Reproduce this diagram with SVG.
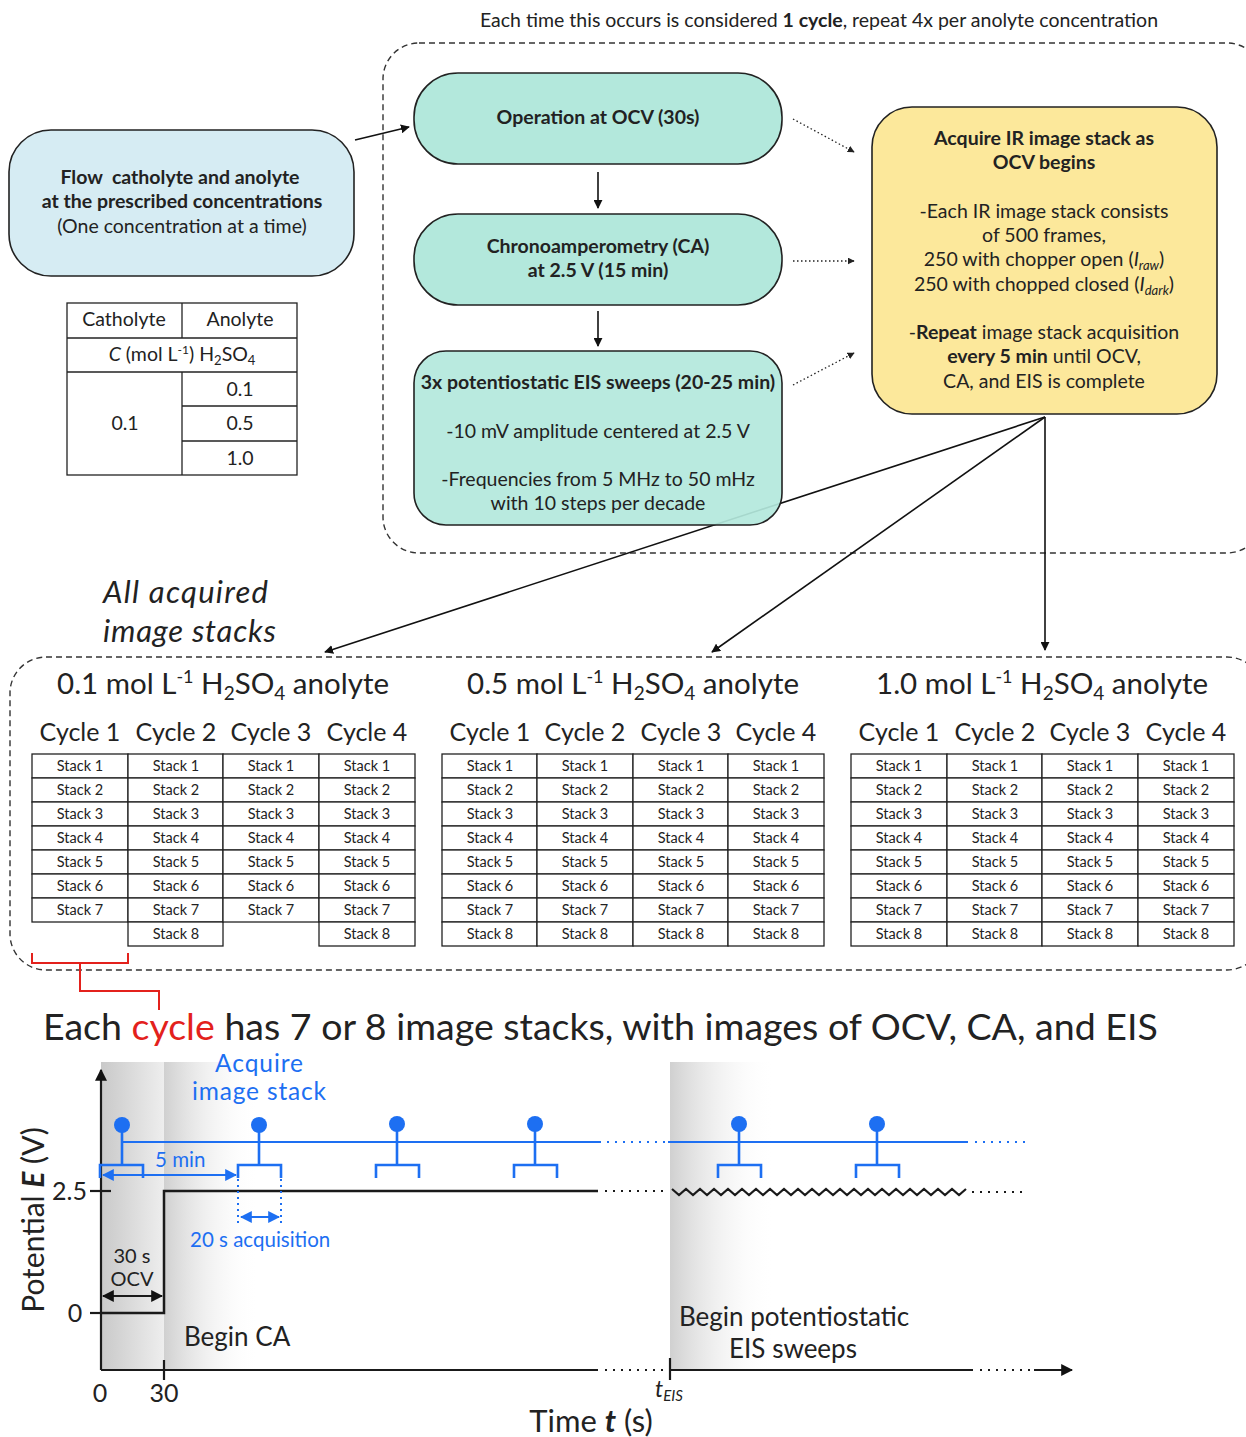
<svg xmlns="http://www.w3.org/2000/svg" width="1246" height="1437" viewBox="0 0 1246 1437">
<style>
text{font-family:Lato,"Noto Sans","Liberation Sans",sans-serif;fill:#222}
.b{font-weight:bold}
.it{font-style:italic}
.c{text-anchor:middle}
.e{text-anchor:end}
.t{font-size:19.5px}
.node{stroke:#222;stroke-width:1.6}
.blue{fill:#d6ecf3}
.green{fill:#b3e8dc}
.yellow{fill:#fce89b}
.dash{fill:none;stroke:#333;stroke-width:1.4;stroke-dasharray:6 4}
.conn{fill:none;stroke:#111;stroke-width:1.6}
.dot{fill:none;stroke:#222;stroke-width:1.3;stroke-dasharray:1.5 2.5}
.cell{fill:#fff;stroke:#222;stroke-width:1.3}
.st{font-size:14.5px;text-anchor:middle}
.hd{font-size:29.5px;text-anchor:middle}
.cy{font-size:25px;text-anchor:middle}
.tb{fill:none;stroke:#222;stroke-width:1.3}
.bl{fill:#1d6ff2}
.bls{stroke:#1d6ff2;fill:none}
.bk{stroke:#1a1a1a;fill:none}
.bdot{stroke:#1d6ff2;fill:none;stroke-width:2.2;stroke-dasharray:2 6}
.kdot{stroke:#1a1a1a;fill:none;stroke-width:2.2;stroke-dasharray:2 6}
</style>
<defs>
<marker id="ah" viewBox="0 0 10 10" refX="9" refY="5" markerWidth="9" markerHeight="9" markerUnits="userSpaceOnUse" orient="auto"><path d="M0,0 L10,5 L0,10 z" fill="#111"/></marker>
<marker id="ahs" viewBox="0 0 10 10" refX="9" refY="5" markerWidth="7" markerHeight="7" markerUnits="userSpaceOnUse" orient="auto"><path d="M0,0 L10,5 L0,10 z" fill="#222"/></marker>
<marker id="ahb" viewBox="0 0 10 10" refX="9" refY="5" markerWidth="12" markerHeight="12" markerUnits="userSpaceOnUse" orient="auto-start-reverse"><path d="M0,0 L10,5 L0,10 z" fill="#1d6ff2"/></marker>
<marker id="ahk" viewBox="0 0 10 10" refX="9" refY="5" markerWidth="12" markerHeight="12" markerUnits="userSpaceOnUse" orient="auto-start-reverse"><path d="M0,0 L10,5 L0,10 z" fill="#111"/></marker>
<linearGradient id="g1" x1="0" x2="1" y1="0" y2="0"><stop offset="0" stop-color="#c9c9c9"/><stop offset="1" stop-color="#eeeeee"/></linearGradient>
<linearGradient id="g2" x1="0" x2="1" y1="0" y2="0"><stop offset="0" stop-color="#d0d0d0"/><stop offset="1" stop-color="#ffffff" stop-opacity="0"/></linearGradient>
</defs>

<rect width="1246" height="1437" fill="#fff"/>

<!-- caption -->
<text x="819" y="27" class="c t">Each time this occurs is considered <tspan class="b">1 cycle</tspan>, repeat 4x per anolyte concentration</text>

<!-- dashed grouping boxes -->
<rect x="383" y="43" width="880" height="510" rx="36" class="dash"/>
<rect x="10" y="657" width="1253" height="313" rx="36" class="dash"/>

<!-- connectors -->
<g id="connectors">
<line x1="355" y1="140" x2="409" y2="127" class="conn" marker-end="url(#ah)"/>
<line x1="598" y1="172" x2="598" y2="208" class="conn" marker-end="url(#ah)"/>
<line x1="598" y1="311" x2="598" y2="346" class="conn" marker-end="url(#ah)"/>
<line x1="793" y1="119" x2="854" y2="152" class="dot" marker-end="url(#ahs)"/>
<line x1="793" y1="261" x2="854" y2="261" class="dot" marker-end="url(#ahs)"/>
<line x1="793" y1="385" x2="854" y2="353" class="dot" marker-end="url(#ahs)"/>
<line x1="1045" y1="417" x2="325" y2="652" class="conn" marker-end="url(#ah)"/>
<line x1="1045" y1="417" x2="712" y2="652" class="conn" marker-end="url(#ah)"/>
<line x1="1045" y1="417" x2="1045" y2="650" class="conn" marker-end="url(#ah)"/>
<path d="M32 953 V963 H128 V953 M80 963 V991 H159 V1010" fill="none" stroke="#e3211c" stroke-width="2"/>
</g>

<!-- nodes -->
<g id="flow-electrolyte">
<rect x="9" y="130" width="345" height="146" rx="42" class="node blue"/>
<text x="180" y="184" class="c b t" xml:space="preserve">Flow  catholyte and anolyte</text>
<text x="182" y="208" class="c b t">at the prescribed concentrations</text>
<text x="182" y="233" class="c t">(One concentration at a time)</text>
</g>

<g id="concentration-table">
<rect x="67" y="303" width="230" height="172" class="tb"/>
<line x1="182" y1="303" x2="182" y2="338" class="tb"/>
<line x1="67" y1="338" x2="297" y2="338" class="tb"/>
<line x1="67" y1="372" x2="297" y2="372" class="tb"/>
<line x1="182" y1="372" x2="182" y2="475" class="tb"/>
<line x1="182" y1="406" x2="297" y2="406" class="tb"/>
<line x1="182" y1="441" x2="297" y2="441" class="tb"/>
<text x="124" y="326" class="c t">Catholyte</text>
<text x="240" y="326" class="c t">Anolyte</text>
<text x="182" y="361" class="c t"><tspan class="it">C</tspan> (mol L<tspan dy="-7" font-size="12">-1</tspan><tspan dy="7">) H</tspan><tspan dy="4" font-size="13">2</tspan><tspan dy="-4">SO</tspan><tspan dy="4" font-size="13">4</tspan></text>
<text x="125" y="430" class="c t">0.1</text>
<text x="240" y="396" class="c t">0.1</text>
<text x="240" y="430" class="c t">0.5</text>
<text x="240" y="465" class="c t">1.0</text>
</g>

<g id="ocv">
<rect x="414" y="73" width="368" height="91" rx="44" class="node green"/>
<text x="598" y="124" class="c b t">Operation at OCV (30s)</text>
</g>

<g id="ca">
<rect x="414" y="214" width="368" height="91" rx="44" class="node green"/>
<text x="598" y="253" class="c b t">Chronoamperometry (CA)</text>
<text x="598" y="277" class="c b t">at 2.5 V (15 min)</text>
</g>

<g id="eis">
<rect x="414" y="351" width="368" height="174" rx="32" class="node green" fill-opacity="0.92"/>
<text x="598" y="389" class="c b t">3x potentiostatic EIS sweeps (20-25 min)</text>
<text x="598" y="438" class="c t">-10 mV amplitude centered at 2.5 V</text>
<text x="598" y="486" class="c t">-Frequencies from 5 MHz to 50 mHz</text>
<text x="598" y="510" class="c t">with 10 steps per decade</text>
</g>

<g id="acquire-ir">
<rect x="872" y="107" width="345" height="307" rx="40" class="node yellow"/>
<text x="1044" y="145" class="c b t">Acquire IR image stack as</text>
<text x="1044" y="169" class="c b t">OCV begins</text>
<text x="1044" y="218" class="c t">-Each IR image stack consists</text>
<text x="1044" y="242" class="c t">of 500 frames,</text>
<text x="1044" y="266" class="c t">250 with chopper open (<tspan class="it">I</tspan><tspan class="it" dy="4" font-size="13">raw</tspan><tspan dy="-4">)</tspan></text>
<text x="1044" y="291" class="c t">250 with chopped closed (<tspan class="it">I</tspan><tspan class="it" dy="4" font-size="13">dark</tspan><tspan dy="-4">)</tspan></text>
<text x="1044" y="339" class="c t">-<tspan class="b">Repeat</tspan> image stack acquisition</text>
<text x="1044" y="363" class="c t"><tspan class="b">every 5 min</tspan> until OCV,</text>
<text x="1044" y="388" class="c t">CA, and EIS is complete</text>
</g>

<text x="103" y="603" class="it" font-size="31" textLength="165">All acquired</text>
<text x="103" y="642" class="it" font-size="31" textLength="173">image stacks</text>

<!-- Stack tables -->
<g id="anolyte-0.1">
<text x="223" y="694" class="hd">0.1 mol L<tspan dy="-11" font-size="18">-1</tspan><tspan dy="11"> H</tspan><tspan dy="6" font-size="19">2</tspan><tspan dy="-6">SO</tspan><tspan dy="6" font-size="19">4</tspan><tspan dy="-6"> anolyte</tspan></text>
<text x="80" y="741" class="cy">Cycle 1</text>
<text x="176" y="741" class="cy">Cycle 2</text>
<text x="271" y="741" class="cy">Cycle 3</text>
<text x="367" y="741" class="cy">Cycle 4</text>
<g transform="translate(32,754)">
<rect width="96" height="24" class="cell"/><text x="48" y="17" class="st">Stack 1</text>
<rect y="24" width="96" height="24" class="cell"/><text x="48" y="41" class="st">Stack 2</text>
<rect y="48" width="96" height="24" class="cell"/><text x="48" y="65" class="st">Stack 3</text>
<rect y="72" width="96" height="24" class="cell"/><text x="48" y="89" class="st">Stack 4</text>
<rect y="96" width="96" height="24" class="cell"/><text x="48" y="113" class="st">Stack 5</text>
<rect y="120" width="96" height="24" class="cell"/><text x="48" y="137" class="st">Stack 6</text>
<rect y="144" width="96" height="24" class="cell"/><text x="48" y="161" class="st">Stack 7</text>
</g>
<g transform="translate(128,754)">
<rect width="95" height="24" class="cell"/><text x="48" y="17" class="st">Stack 1</text>
<rect y="24" width="95" height="24" class="cell"/><text x="48" y="41" class="st">Stack 2</text>
<rect y="48" width="95" height="24" class="cell"/><text x="48" y="65" class="st">Stack 3</text>
<rect y="72" width="95" height="24" class="cell"/><text x="48" y="89" class="st">Stack 4</text>
<rect y="96" width="95" height="24" class="cell"/><text x="48" y="113" class="st">Stack 5</text>
<rect y="120" width="95" height="24" class="cell"/><text x="48" y="137" class="st">Stack 6</text>
<rect y="144" width="95" height="24" class="cell"/><text x="48" y="161" class="st">Stack 7</text>
<rect y="168" width="95" height="24" class="cell"/><text x="48" y="185" class="st">Stack 8</text>
</g>
<g transform="translate(223,754)">
<rect width="96" height="24" class="cell"/><text x="48" y="17" class="st">Stack 1</text>
<rect y="24" width="96" height="24" class="cell"/><text x="48" y="41" class="st">Stack 2</text>
<rect y="48" width="96" height="24" class="cell"/><text x="48" y="65" class="st">Stack 3</text>
<rect y="72" width="96" height="24" class="cell"/><text x="48" y="89" class="st">Stack 4</text>
<rect y="96" width="96" height="24" class="cell"/><text x="48" y="113" class="st">Stack 5</text>
<rect y="120" width="96" height="24" class="cell"/><text x="48" y="137" class="st">Stack 6</text>
<rect y="144" width="96" height="24" class="cell"/><text x="48" y="161" class="st">Stack 7</text>
</g>
<g transform="translate(319,754)">
<rect width="96" height="24" class="cell"/><text x="48" y="17" class="st">Stack 1</text>
<rect y="24" width="96" height="24" class="cell"/><text x="48" y="41" class="st">Stack 2</text>
<rect y="48" width="96" height="24" class="cell"/><text x="48" y="65" class="st">Stack 3</text>
<rect y="72" width="96" height="24" class="cell"/><text x="48" y="89" class="st">Stack 4</text>
<rect y="96" width="96" height="24" class="cell"/><text x="48" y="113" class="st">Stack 5</text>
<rect y="120" width="96" height="24" class="cell"/><text x="48" y="137" class="st">Stack 6</text>
<rect y="144" width="96" height="24" class="cell"/><text x="48" y="161" class="st">Stack 7</text>
<rect y="168" width="96" height="24" class="cell"/><text x="48" y="185" class="st">Stack 8</text>
</g>
</g>

<g id="anolyte-0.5">
<text x="633" y="694" class="hd">0.5 mol L<tspan dy="-11" font-size="18">-1</tspan><tspan dy="11"> H</tspan><tspan dy="6" font-size="19">2</tspan><tspan dy="-6">SO</tspan><tspan dy="6" font-size="19">4</tspan><tspan dy="-6"> anolyte</tspan></text>
<text x="490" y="741" class="cy">Cycle 1</text>
<text x="585" y="741" class="cy">Cycle 2</text>
<text x="681" y="741" class="cy">Cycle 3</text>
<text x="776" y="741" class="cy">Cycle 4</text>
<g transform="translate(442,754)">
<rect width="95" height="24" class="cell"/><text x="48" y="17" class="st">Stack 1</text>
<rect y="24" width="95" height="24" class="cell"/><text x="48" y="41" class="st">Stack 2</text>
<rect y="48" width="95" height="24" class="cell"/><text x="48" y="65" class="st">Stack 3</text>
<rect y="72" width="95" height="24" class="cell"/><text x="48" y="89" class="st">Stack 4</text>
<rect y="96" width="95" height="24" class="cell"/><text x="48" y="113" class="st">Stack 5</text>
<rect y="120" width="95" height="24" class="cell"/><text x="48" y="137" class="st">Stack 6</text>
<rect y="144" width="95" height="24" class="cell"/><text x="48" y="161" class="st">Stack 7</text>
<rect y="168" width="95" height="24" class="cell"/><text x="48" y="185" class="st">Stack 8</text>
</g>
<g transform="translate(537,754)">
<rect width="96" height="24" class="cell"/><text x="48" y="17" class="st">Stack 1</text>
<rect y="24" width="96" height="24" class="cell"/><text x="48" y="41" class="st">Stack 2</text>
<rect y="48" width="96" height="24" class="cell"/><text x="48" y="65" class="st">Stack 3</text>
<rect y="72" width="96" height="24" class="cell"/><text x="48" y="89" class="st">Stack 4</text>
<rect y="96" width="96" height="24" class="cell"/><text x="48" y="113" class="st">Stack 5</text>
<rect y="120" width="96" height="24" class="cell"/><text x="48" y="137" class="st">Stack 6</text>
<rect y="144" width="96" height="24" class="cell"/><text x="48" y="161" class="st">Stack 7</text>
<rect y="168" width="96" height="24" class="cell"/><text x="48" y="185" class="st">Stack 8</text>
</g>
<g transform="translate(633,754)">
<rect width="95" height="24" class="cell"/><text x="48" y="17" class="st">Stack 1</text>
<rect y="24" width="95" height="24" class="cell"/><text x="48" y="41" class="st">Stack 2</text>
<rect y="48" width="95" height="24" class="cell"/><text x="48" y="65" class="st">Stack 3</text>
<rect y="72" width="95" height="24" class="cell"/><text x="48" y="89" class="st">Stack 4</text>
<rect y="96" width="95" height="24" class="cell"/><text x="48" y="113" class="st">Stack 5</text>
<rect y="120" width="95" height="24" class="cell"/><text x="48" y="137" class="st">Stack 6</text>
<rect y="144" width="95" height="24" class="cell"/><text x="48" y="161" class="st">Stack 7</text>
<rect y="168" width="95" height="24" class="cell"/><text x="48" y="185" class="st">Stack 8</text>
</g>
<g transform="translate(728,754)">
<rect width="96" height="24" class="cell"/><text x="48" y="17" class="st">Stack 1</text>
<rect y="24" width="96" height="24" class="cell"/><text x="48" y="41" class="st">Stack 2</text>
<rect y="48" width="96" height="24" class="cell"/><text x="48" y="65" class="st">Stack 3</text>
<rect y="72" width="96" height="24" class="cell"/><text x="48" y="89" class="st">Stack 4</text>
<rect y="96" width="96" height="24" class="cell"/><text x="48" y="113" class="st">Stack 5</text>
<rect y="120" width="96" height="24" class="cell"/><text x="48" y="137" class="st">Stack 6</text>
<rect y="144" width="96" height="24" class="cell"/><text x="48" y="161" class="st">Stack 7</text>
<rect y="168" width="96" height="24" class="cell"/><text x="48" y="185" class="st">Stack 8</text>
</g>
</g>

<g id="anolyte-1.0">
<text x="1042" y="694" class="hd">1.0 mol L<tspan dy="-11" font-size="18">-1</tspan><tspan dy="11"> H</tspan><tspan dy="6" font-size="19">2</tspan><tspan dy="-6">SO</tspan><tspan dy="6" font-size="19">4</tspan><tspan dy="-6"> anolyte</tspan></text>
<text x="899" y="741" class="cy">Cycle 1</text>
<text x="995" y="741" class="cy">Cycle 2</text>
<text x="1090" y="741" class="cy">Cycle 3</text>
<text x="1186" y="741" class="cy">Cycle 4</text>
<g transform="translate(851,754)">
<rect width="96" height="24" class="cell"/><text x="48" y="17" class="st">Stack 1</text>
<rect y="24" width="96" height="24" class="cell"/><text x="48" y="41" class="st">Stack 2</text>
<rect y="48" width="96" height="24" class="cell"/><text x="48" y="65" class="st">Stack 3</text>
<rect y="72" width="96" height="24" class="cell"/><text x="48" y="89" class="st">Stack 4</text>
<rect y="96" width="96" height="24" class="cell"/><text x="48" y="113" class="st">Stack 5</text>
<rect y="120" width="96" height="24" class="cell"/><text x="48" y="137" class="st">Stack 6</text>
<rect y="144" width="96" height="24" class="cell"/><text x="48" y="161" class="st">Stack 7</text>
<rect y="168" width="96" height="24" class="cell"/><text x="48" y="185" class="st">Stack 8</text>
</g>
<g transform="translate(947,754)">
<rect width="95" height="24" class="cell"/><text x="48" y="17" class="st">Stack 1</text>
<rect y="24" width="95" height="24" class="cell"/><text x="48" y="41" class="st">Stack 2</text>
<rect y="48" width="95" height="24" class="cell"/><text x="48" y="65" class="st">Stack 3</text>
<rect y="72" width="95" height="24" class="cell"/><text x="48" y="89" class="st">Stack 4</text>
<rect y="96" width="95" height="24" class="cell"/><text x="48" y="113" class="st">Stack 5</text>
<rect y="120" width="95" height="24" class="cell"/><text x="48" y="137" class="st">Stack 6</text>
<rect y="144" width="95" height="24" class="cell"/><text x="48" y="161" class="st">Stack 7</text>
<rect y="168" width="95" height="24" class="cell"/><text x="48" y="185" class="st">Stack 8</text>
</g>
<g transform="translate(1042,754)">
<rect width="96" height="24" class="cell"/><text x="48" y="17" class="st">Stack 1</text>
<rect y="24" width="96" height="24" class="cell"/><text x="48" y="41" class="st">Stack 2</text>
<rect y="48" width="96" height="24" class="cell"/><text x="48" y="65" class="st">Stack 3</text>
<rect y="72" width="96" height="24" class="cell"/><text x="48" y="89" class="st">Stack 4</text>
<rect y="96" width="96" height="24" class="cell"/><text x="48" y="113" class="st">Stack 5</text>
<rect y="120" width="96" height="24" class="cell"/><text x="48" y="137" class="st">Stack 6</text>
<rect y="144" width="96" height="24" class="cell"/><text x="48" y="161" class="st">Stack 7</text>
<rect y="168" width="96" height="24" class="cell"/><text x="48" y="185" class="st">Stack 8</text>
</g>
<g transform="translate(1138,754)">
<rect width="96" height="24" class="cell"/><text x="48" y="17" class="st">Stack 1</text>
<rect y="24" width="96" height="24" class="cell"/><text x="48" y="41" class="st">Stack 2</text>
<rect y="48" width="96" height="24" class="cell"/><text x="48" y="65" class="st">Stack 3</text>
<rect y="72" width="96" height="24" class="cell"/><text x="48" y="89" class="st">Stack 4</text>
<rect y="96" width="96" height="24" class="cell"/><text x="48" y="113" class="st">Stack 5</text>
<rect y="120" width="96" height="24" class="cell"/><text x="48" y="137" class="st">Stack 6</text>
<rect y="144" width="96" height="24" class="cell"/><text x="48" y="161" class="st">Stack 7</text>
<rect y="168" width="96" height="24" class="cell"/><text x="48" y="185" class="st">Stack 8</text>
</g>
</g>

<text x="43" y="1040" font-size="37.5">Each <tspan fill="#e3211c">cycle</tspan> has 7 or 8 image stacks, with images of OCV, CA, and EIS</text>

<!-- timeline chart -->
<g id="timeline-chart">
<rect x="101" y="1062" width="63" height="308" fill="url(#g1)"/>
<rect x="164" y="1062" width="96" height="308" fill="url(#g2)"/>
<rect x="670" y="1062" width="105" height="308" fill="url(#g2)"/>

<!-- axes -->
<line x1="101" y1="1370" x2="101" y2="1070" class="bk" stroke-width="2.2" marker-end="url(#ahk)"/>
<line x1="101" y1="1370" x2="598" y2="1370" class="bk" stroke-width="2.2"/>
<line x1="605" y1="1370" x2="666" y2="1370" class="kdot"/>
<line x1="670" y1="1370" x2="973" y2="1370" class="bk" stroke-width="2.2"/>
<line x1="980" y1="1370" x2="1030" y2="1370" class="kdot"/>
<line x1="1034" y1="1370" x2="1072" y2="1370" class="bk" stroke-width="2.2" marker-end="url(#ahk)"/>
<line x1="90" y1="1191" x2="111" y2="1191" class="bk" stroke-width="2.2"/>
<line x1="90" y1="1313" x2="101" y2="1313" class="bk" stroke-width="2.2"/>
<line x1="164" y1="1360" x2="164" y2="1380" class="bk" stroke-width="2.2"/>
<line x1="670" y1="1358" x2="670" y2="1380" class="bk" stroke-width="2.2"/>

<!-- potential signal -->
<polyline points="101,1313 164,1313 164,1191 598,1191" class="bk" stroke-width="2.5"/>
<line x1="605" y1="1191" x2="668" y2="1191" class="kdot"/>
<path d="M672 1189 l7 6 l7 -6 l7 6 l7 -6 l7 6 l7 -6 l7 6 l7 -6 l7 6 l7 -6 l7 6 l7 -6 l7 6 l7 -6 l7 6 l7 -6 l7 6 l7 -6 l7 6 l7 -6 l7 6 l7 -6 l7 6 l7 -6 l7 6 l7 -6 l7 6 l7 -6 l7 6 l7 -6 l7 6 l7 -6 l7 6 l7 -6 l7 6 l7 -6 l7 6 l7 -6 l7 6 l7 -6 l7 6 l7 -6" class="bk" stroke-width="2.2"/>
<line x1="972" y1="1192" x2="1027" y2="1192" class="kdot"/>

<!-- acquisition line -->
<line x1="122" y1="1142" x2="601" y2="1142" class="bls" stroke-width="2"/>
<line x1="607" y1="1142" x2="665" y2="1142" class="bdot"/>
<line x1="668" y1="1142" x2="968" y2="1142" class="bls" stroke-width="2"/>
<line x1="975" y1="1142" x2="1025" y2="1142" class="bdot"/>

<g class="bls" stroke-width="2.6">
<path d="M122 1125 V1165 M100 1178 V1165 H143 V1178"/>
<path d="M259 1125 V1165 M238 1178 V1165 H281 V1178"/>
<path d="M397 1125 V1165 M376 1178 V1165 H419 V1178"/>
<path d="M535 1125 V1165 M514 1178 V1165 H557 V1178"/>
<path d="M739 1125 V1165 M718 1178 V1165 H761 V1178"/>
<path d="M877 1125 V1165 M856 1178 V1165 H899 V1178"/>
</g>
<g class="bl">
<circle cx="122" cy="1125" r="8"/>
<circle cx="259" cy="1125" r="8"/>
<circle cx="397" cy="1124" r="8"/>
<circle cx="535" cy="1124" r="8"/>
<circle cx="739" cy="1124" r="8"/>
<circle cx="877" cy="1124" r="8"/>
</g>
<line x1="103" y1="1175" x2="236" y2="1175" class="bls" stroke-width="2" marker-start="url(#ahb)" marker-end="url(#ahb)"/>
<line x1="238" y1="1179" x2="238" y2="1223" class="bls" stroke-width="2" stroke-dasharray="2 4"/>
<line x1="281" y1="1179" x2="281" y2="1223" class="bls" stroke-width="2" stroke-dasharray="2 4"/>
<line x1="241" y1="1217" x2="279" y2="1217" class="bls" stroke-width="2" marker-start="url(#ahb)" marker-end="url(#ahb)"/>
<line x1="103" y1="1296" x2="162" y2="1296" class="bk" stroke-width="2" marker-start="url(#ahk)" marker-end="url(#ahk)"/>

<!-- labels -->
<text x="259" y="1072" class="c bl" font-size="24.5" textLength="88">Acquire</text>
<text x="259" y="1100" class="c bl" font-size="24.5" textLength="134">image stack</text>
<text x="155" y="1167" class="bl" font-size="20.5">5 min</text>
<text x="190" y="1247" class="bl" font-size="20.5">20 s acquisition</text>
<text x="132" y="1263" class="c" font-size="20">30 s</text>
<text x="132" y="1286" class="c" font-size="20">OCV</text>
<text x="184" y="1346" font-size="26">Begin CA</text>
<text x="679" y="1326" font-size="26">Begin potentiostatic</text>
<text x="793" y="1358" class="c" font-size="26">EIS sweeps</text>
<text x="87" y="1200" class="e" font-size="25">2.5</text>
<text x="75" y="1322" class="c" font-size="25">0</text>
<text x="100" y="1402" class="c" font-size="25">0</text>
<text x="164" y="1402" class="c" font-size="25">30</text>
<text x="655" y="1397" class="it" font-size="23">t<tspan dy="4" font-size="15">EIS</tspan></text>
<text x="591" y="1432" class="c" font-size="31">Time <tspan class="b it">t</tspan> (s)</text>
<text transform="translate(44,1220) rotate(-90)" class="c" font-size="30">Potential <tspan class="b it">E</tspan> (V)</text>
</g>
</svg>
